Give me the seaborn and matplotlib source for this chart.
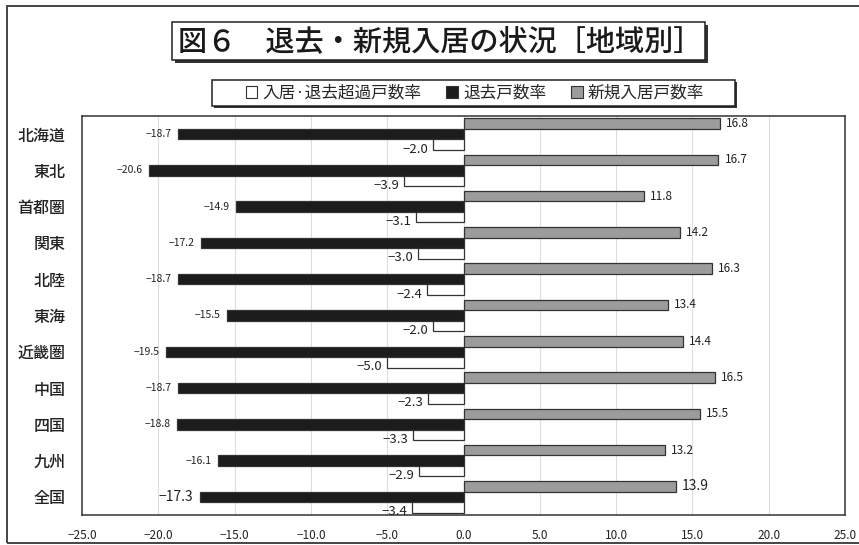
import pandas as pd
import matplotlib
matplotlib.use('Agg')
import matplotlib.pyplot as plt
import matplotlib.patches as mpatches
from matplotlib.ticker import FuncFormatter
import seaborn as sns

# data
regions = ['北海道', '東北', '首都圏', '関東', '北陸', '東海', '近畿圏', '中国', '四国', '九州', '全国']
new_rate = [16.8, 16.7, 11.8, 14.2, 16.3, 13.4, 14.4, 16.5, 15.5, 13.2, 13.9]
move_out_rate = [-18.7, -20.6, -14.9, -17.2, -18.7, -15.5, -19.5, -18.7, -18.8, -16.1, -17.3]
net_rate = [-2.0, -3.9, -3.1, -3.0, -2.4, -2.0, -5.0, -2.3, -3.3, -2.9, -3.4]
x_ticks = [-25, -20, -15, -10, -5, 0, 5, 10, 15, 20, 25]

s_new = '新規入居戸数率'
s_out = '退去戸数率'
s_net = '入居·退去超過戸数率'

df = pd.DataFrame({
    'region': regions * 3,
    'series': [s_new] * len(regions) + [s_out] * len(regions) + [s_net] * len(regions),
    'value': new_rate + move_out_rate + net_rate,
})

sns.set_style('white')
plt.rcParams['font.family'] = ['Noto Sans CJK JP', 'DejaVu Sans']

W, H = 859, 545
fig = plt.figure(figsize=(W / 100, H / 100), dpi=100)

def fx(px):
    return px / W

def fy(py):
    return 1 - py / H

# axes placement (pixels from reference)
left, right, top, bottom = 82, 845, 116, 515
ax = fig.add_axes([fx(left), fy(bottom), fx(right - left), (bottom - top) / H])

colors = {s_new: '#9c9c9c', s_out: '#1c1c1c', s_net: '#ffffff'}
sns.barplot(data=df, y='region', x='value', hue='series',
            hue_order=[s_new, s_out, s_net], order=regions,
            palette=colors, orient='h', width=0.87,
            edgecolor='#333333', linewidth=0.9, legend=False, ax=ax)

ax.set_xlim(-25, 25)
ax.set_ylim(len(regions) - 0.5, -0.5)
ax.set_xlabel('')
ax.set_ylabel('')
ax.set_xticks(x_ticks)
ax.xaxis.set_major_formatter(FuncFormatter(lambda v, p: f'{v:.1f}'.replace('-', '−')))
ax.tick_params(axis='x', length=3, direction='in', pad=10, labelsize=8.5, colors='#222222')
ax.tick_params(axis='y', length=0, pad=12, labelsize=11.5)
for t in ax.get_yticklabels():
    t.set_fontweight('medium')
    t.set_color('#222222')
for v in x_ticks[1:-1]:
    ax.axvline(v, color='#dddddd', lw=0.8, zorder=0)
for sp in ax.spines.values():
    sp.set_color('#333333')
    sp.set_linewidth(1.1)

# value labels next to bars
series_order = [s_new, s_out, s_net]
values = [new_rate, move_out_rate, net_rate]
for cont, name, vals in zip(ax.containers, series_order, values):
    for i, bar in enumerate(cont.patches):
        val = vals[i]
        txt = f'{val:.1f}'.replace('-', '−')
        yc = bar.get_y() + bar.get_height() / 2
        big = regions[i] == '全国'
        if name == s_new:
            ax.text(val + 0.4, yc, txt, ha='left', va='center',
                    fontsize=10 if big else 8.5, color='#222222')
        elif name == s_out:
            ax.text(val - 0.4, yc, txt, ha='right', va='center',
                    fontsize=10 if big else 7.5, color='#222222')
        else:
            ax.text(val - 0.3, yc + 0.12, txt, ha='right', va='center',
                    fontsize=9.5, color='#222222')

# outer frame of the whole chart
fig.patches.append(mpatches.Rectangle((fx(7), fy(543)), fx(880), (543 - 6) / H,
                                      transform=fig.transFigure, fill=False,
                                      ec='#444444', lw=1.4, clip_on=False))

# boxes with drop shadow
def shadow_box(x0, y0, x1, y1, off=3):
    fig.patches.append(mpatches.Rectangle((fx(x0 + off), fy(y1 + off)), fx(x1 - x0), (y1 - y0) / H,
                                          transform=fig.transFigure, fc='#333333', ec='none'))
    fig.patches.append(mpatches.Rectangle((fx(x0), fy(y1)), fx(x1 - x0), (y1 - y0) / H,
                                          transform=fig.transFigure, fc='white', ec='#222222', lw=1.1))

shadow_box(172, 22, 705, 60)
fig.text(fx(440), fy(42), '図６　退去・新規入居の状況［地域別］', ha='center', va='center',
         fontsize=21, fontweight='medium', color='#1a1a1a')

# legend box
shadow_box(212, 80, 735, 106, off=2)
handles = [mpatches.Patch(fc=colors[s], ec='#333333', lw=0.8) for s in [s_net, s_out, s_new]]
fig.legend(handles, [s_net, s_out, s_new], loc='center', bbox_to_anchor=(fx(475), fy(93)),
           ncol=3, frameon=False, fontsize=12, handlelength=0.7, handleheight=0.7,
           handletextpad=0.3, columnspacing=1.5, borderaxespad=0)

fig.savefig('out.png', dpi=100)
